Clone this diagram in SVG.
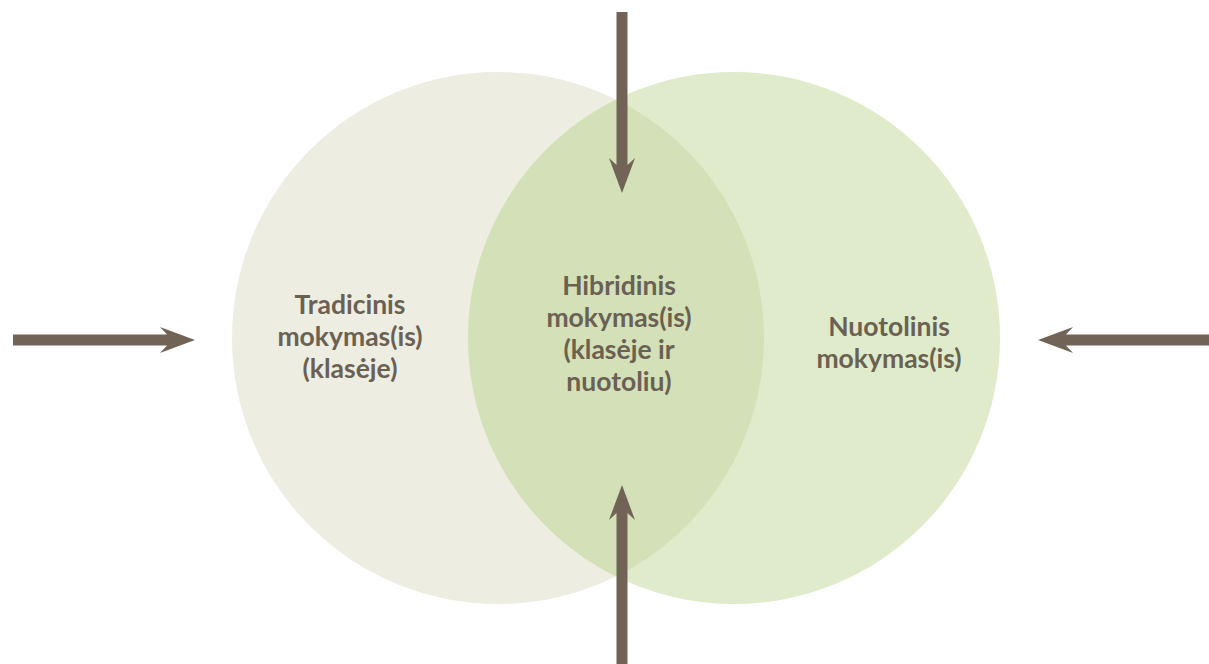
<svg xmlns="http://www.w3.org/2000/svg" width="1209" height="664" viewBox="0 0 1209 664">
  <defs>
    <style>
      .lbl { font-family: Lato, "Open Sans", "Liberation Sans", sans-serif; font-weight: 700; font-size: 26.5px; fill: #6B6152; text-anchor: middle; }
      .arr { fill: #716456; }
    </style>
  </defs>
  <rect width="1209" height="664" fill="#FFFFFF"/>
  <g id="node-tradicinis">
    <circle cx="498" cy="338" r="266" fill="#EDEDE2"/>
  </g>
  <g id="node-nuotolinis">
    <circle cx="734" cy="338" r="266" fill="#DFEBCB"/>
  </g>
  <g id="node-hibridinis">
    <path d="M616,99.6 A266,266 0 0 1 616,576.4 A266,266 0 0 1 616,99.6 Z" fill="#D3E0B8"/>
  </g>
  <g id="labels">
    <text class="lbl" x="350" y="314">Tradicinis</text>
    <text class="lbl" x="350" y="346">mokymas(is)</text>
    <text class="lbl" x="350" y="378">(klasėje)</text>
    <text class="lbl" x="619" y="295">Hibridinis</text>
    <text class="lbl" x="619" y="327">mokymas(is)</text>
    <text class="lbl" x="619" y="359">(klasėje ir</text>
    <text class="lbl" x="619" y="391">nuotoliu)</text>
    <text class="lbl" x="889" y="336">Nuotolinis</text>
    <text class="lbl" x="889" y="368">mokymas(is)</text>
  </g>
  <g id="connectors">
    <path class="arr" transform="translate(195,340)" d="M0,0 L-35,-13 L-28,-5.5 L-182,-5.5 L-182,5.5 L-28,5.5 L-35,13 Z"/>
    <path class="arr" transform="translate(1038,340) rotate(180)" d="M0,0 L-35,-13 L-28,-5.5 L-175,-5.5 L-175,5.5 L-28,5.5 L-35,13 Z"/>
    <path class="arr" transform="translate(622,193) rotate(90)" d="M0,0 L-35,-13 L-28,-5.5 L-181,-5.5 L-181,5.5 L-28,5.5 L-35,13 Z"/>
    <path class="arr" transform="translate(622,485) rotate(-90)" d="M0,0 L-35,-13 L-28,-5.5 L-185,-5.5 L-185,5.5 L-28,5.5 L-35,13 Z"/>
  </g>
</svg>
